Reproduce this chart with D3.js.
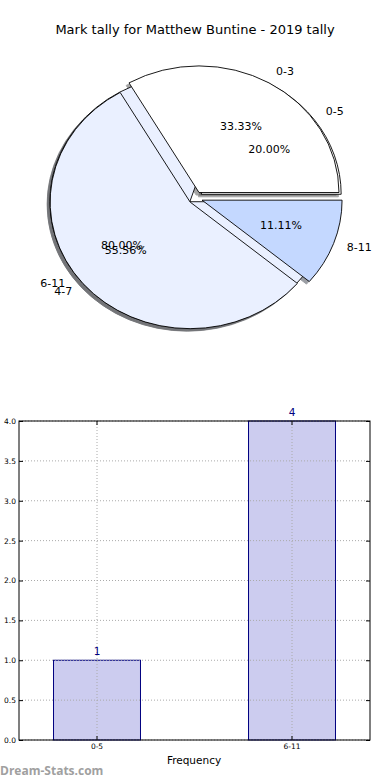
<!DOCTYPE html>
<html>
<head>
<meta charset="utf-8">
<script src="https://cdn.jsdelivr.net/npm/d3@7"></script>
<style>
  body { margin: 0; background: #fff; }
  svg text { font-family: "DejaVu Sans", sans-serif; }
</style>
</head>
<body>
<svg id="canvas"></svg>
<script>
// pie 1 (3 bands) and pie 2 (2 bands), drawn on top of each other
let pieCatsA = ["0-3", "4-7", "8-11"];
let pieValsA = [3, 5, 1];
let pieColorsA = ["#ffffff", "#eaf0ff", "#c4d8ff"];

let pieCatsB = ["0-5", "6-11"];
let pieValsB = [1, 4];
let pieColorsB = ["#ffffff", "#eaf0ff"];

// bar chart
let barCats = ["0-5", "6-11"];
let barVals = [1, 4];
let yTicks = [0, 0.5, 1, 1.5, 2, 2.5, 3, 3.5, 4];

let width = 390;
let height = 780;

let canvas = d3.select("#canvas")
canvas.attr("width", width)
canvas.attr("height", height)

canvas.append("text")
      .attr("x", 195)
      .attr("y", 30)
      .attr("text-anchor", "middle")
      .attr("dominant-baseline", "middle")
      .style("font-size", "13px")
      .text("Mark tally for Matthew Buntine - 2019 tally")

// ---- pie ----
let cx = 195.5, cy = 198, rx = 140, ry = 126.6;
let explode = 0.05;
let U = 100; // unit radius inside the scaled group

// matplotlib style: start at 3 o'clock, go counter clockwise
let pieGen = d3.pie().sort(null).startAngle(Math.PI / 2).endAngle(Math.PI / 2 - 2 * Math.PI);
let arc = d3.arc().innerRadius(0).outerRadius(U);

let slicesA = pieGen(pieValsA).map((d, i) => ({...d, cat: pieCatsA[i], color: pieColorsA[i], total: d3.sum(pieValsA)}));
let slicesB = pieGen(pieValsB).map((d, i) => ({...d, cat: pieCatsB[i], color: pieColorsB[i], total: d3.sum(pieValsB)}));
// pie B goes underneath pie A
let allSlices = slicesB.concat(slicesA);

let mid = (d) => (d.startAngle + d.endAngle) / 2;
let dirX = (d) => Math.sin(mid(d));
let dirY = (d) => -Math.cos(mid(d));

let pieG = canvas.append("g")
                 .attr("transform", "translate(" + cx + "," + cy + ") scale(" + (rx / U) + "," + (ry / U) + ")")

let shade = (c) => {
    let col = d3.rgb(c);
    return d3.rgb(col.r * 0.3, col.g * 0.3, col.b * 0.3).toString();
}

// shadows first (lower zorder)
pieG.selectAll(".shadow")
    .data(allSlices)
    .enter()
    .append("path")
    .attr("class", "shadow")
    .attr("d", arc)
    .attr("transform", (d) => "translate(" + (explode * U * dirX(d) - 2) + "," + (explode * U * dirY(d) + 2) + ")")
    .attr("fill", (d) => shade(d.color))
    .attr("stroke", (d) => shade(d.color))
    .attr("stroke-width", 1)
    .attr("vector-effect", "non-scaling-stroke")
    .attr("opacity", 0.5)

pieG.selectAll(".wedge")
    .data(allSlices)
    .enter()
    .append("path")
    .attr("class", "wedge")
    .attr("d", arc)
    .attr("transform", (d) => "translate(" + (explode * U * dirX(d)) + "," + (explode * U * dirY(d)) + ")")
    .attr("fill", (d) => d.color)
    .attr("stroke", "#000")
    .attr("stroke-width", 0.9)
    .attr("stroke-linejoin", "round")
    .attr("vector-effect", "non-scaling-stroke")

let labelPos = (d, dist) => [cx + (explode + dist) * rx * dirX(d), cy + (explode + dist) * ry * dirY(d)];

canvas.selectAll(".pielabel")
      .data(allSlices)
      .enter()
      .append("text")
      .attr("class", "pielabel")
      .attr("x", (d) => labelPos(d, 1.1)[0])
      .attr("y", (d) => labelPos(d, 1.1)[1])
      .attr("text-anchor", (d) => dirX(d) > 0 ? "start" : "end")
      .attr("dominant-baseline", "middle")
      .style("font-size", "11px")
      .text((d) => d.cat)

canvas.selectAll(".pct")
      .data(allSlices)
      .enter()
      .append("text")
      .attr("class", "pct")
      .attr("x", (d) => labelPos(d, 0.6)[0])
      .attr("y", (d) => labelPos(d, 0.6)[1])
      .attr("text-anchor", "middle")
      .attr("dominant-baseline", "middle")
      .style("font-size", "11px")
      .text((d) => (d.value / d.total * 100).toFixed(2) + "%")

// ---- bar chart ----
let plotLeft = 19, plotRight = 370, plotTop = 421, plotBottom = 740;

let xScale = d3.scaleBand()
               .domain(barCats)
               .range([plotLeft, plotRight])
               .paddingInner(0.554)
               .paddingOuter(0.177)

let yScale = d3.scaleLinear()
               .domain([0, 4])
               .range([plotBottom, plotTop])

let bars = canvas.append("g")
bars.selectAll(".bar")
    .data(barVals)
    .enter()
    .append("rect")
    .attr("class", "bar")
    .attr("x", (d, i) => xScale(barCats[i]))
    .attr("width", xScale.bandwidth())
    .attr("y", (d) => yScale(d))
    .attr("height", (d) => plotBottom - yScale(d))
    .attr("fill", "#0000b0")
    .attr("fill-opacity", 0.2)
    .attr("stroke", "#000080")
    .attr("stroke-width", 1)

// gridlines drawn over bars as in the original
let grid = canvas.append("g")
grid.selectAll(".hgrid")
    .data(yTicks)
    .enter()
    .append("line")
    .attr("x1", plotLeft).attr("x2", plotRight)
    .attr("y1", (d) => yScale(d)).attr("y2", (d) => yScale(d))
    .attr("stroke", "#aaa")
    .attr("stroke-dasharray", "1,2")

grid.selectAll(".vgrid")
    .data(barCats)
    .enter()
    .append("line")
    .attr("x1", (d) => xScale(d) + xScale.bandwidth() / 2)
    .attr("x2", (d) => xScale(d) + xScale.bandwidth() / 2)
    .attr("y1", plotTop).attr("y2", plotBottom)
    .attr("stroke", "#aaa")
    .attr("stroke-dasharray", "1,2")

canvas.selectAll(".vlabel")
      .data(barVals)
      .enter()
      .append("text")
      .attr("class", "vlabel")
      .attr("x", (d, i) => xScale(barCats[i]) + xScale.bandwidth() / 2)
      .attr("y", (d) => yScale(d) - 5)
      .attr("text-anchor", "middle")
      .attr("fill", "#000080")
      .style("font-size", "10.5px")
      .text((d) => d)

let yAxis = d3.axisLeft(yScale)
              .tickValues(yTicks)
              .tickFormat(d3.format(".1f"))
              .tickSizeInner(-4)
              .tickSizeOuter(0)
              .tickPadding(3)
let yAxisR = d3.axisRight(yScale)
               .tickValues(yTicks)
               .tickFormat("")
               .tickSizeInner(-4)
               .tickSizeOuter(0)
let xAxis = d3.axisBottom(xScale)
              .tickSizeInner(-4)
              .tickSizeOuter(0)
              .tickPadding(4)
let xAxisT = d3.axisTop(xScale)
               .tickFormat("")
               .tickSizeInner(-4)
               .tickSizeOuter(0)

let styleAxis = (g) => {
    g.select(".domain").remove()
    g.selectAll("text").style("font-size", "7.5px").attr("fill", "#000").style("font-family", "DejaVu Sans")
}

canvas.append("g").attr("transform", "translate(" + plotLeft + ",0)").call(yAxis).call(styleAxis)
canvas.append("g").attr("transform", "translate(" + plotRight + ",0)").call(yAxisR).call(styleAxis)
canvas.append("g").attr("transform", "translate(0," + plotBottom + ")").call(xAxis).call(styleAxis)
canvas.append("g").attr("transform", "translate(0," + plotTop + ")").call(xAxisT).call(styleAxis)

canvas.append("rect")
      .attr("x", plotLeft).attr("y", plotTop)
      .attr("width", plotRight - plotLeft).attr("height", plotBottom - plotTop)
      .attr("fill", "none")
      .attr("stroke", "#000")
      .attr("stroke-width", 1)

canvas.append("text")
      .attr("x", 194)
      .attr("y", 764)
      .attr("text-anchor", "middle")
      .style("font-size", "10.5px")
      .text("Frequency")

canvas.append("text")
      .attr("x", 0)
      .attr("y", 775)
      .attr("fill", "#a0a0a0")
      .style("font-family", "Open Sans")
      .style("font-weight", "bold")
      .style("font-size", "12px")
      .text("Dream-Stats.com")
</script>
</body>
</html>
